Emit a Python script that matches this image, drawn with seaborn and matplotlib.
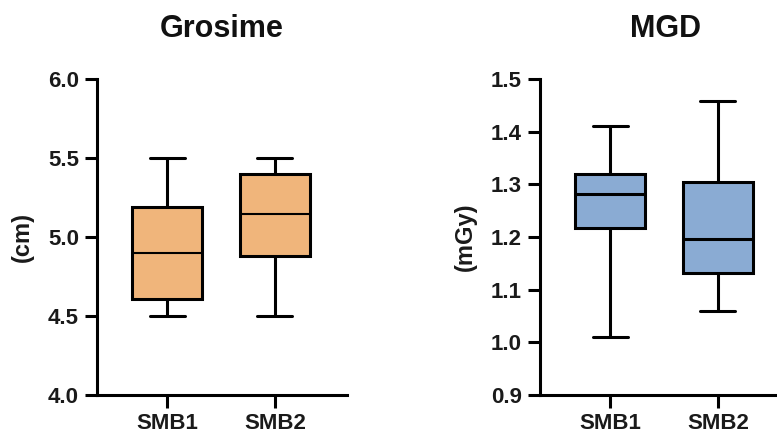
import matplotlib
matplotlib.use("Agg")
import matplotlib.pyplot as plt
import seaborn as sns
import pandas as pd

sns.set_theme(style="ticks")
plt.rcParams['font.family'] = ['Liberation Sans', 'DejaVu Sans']

groups = ["SMB1", "SMB2"]
# five-number summaries: min, q1, median, q3, max
grosime_smb1 = [4.50, 4.61, 4.90, 5.19, 5.50]
grosime_smb2 = [4.50, 4.88, 5.145, 5.40, 5.50]
mgd_smb1 = [1.01, 1.218, 1.281, 1.320, 1.41]
mgd_smb2 = [1.059, 1.132, 1.196, 1.305, 1.458]

titles = ["Grosime", "MGD"]
ylabels = ["(cm)", "(mGy)"]
yticks_left = [4.0, 4.5, 5.0, 5.5, 6.0]
yticks_right = [0.9, 1.0, 1.1, 1.2, 1.3, 1.4, 1.5]
colors = ["#F0B57B", "#8AABD3"]

def make_df(a, b):
    return pd.DataFrame({"group": [groups[0]] * len(a) + [groups[1]] * len(b),
                         "value": a + b})

dfs = [make_df(grosime_smb1, grosime_smb2), make_df(mgd_smb1, mgd_smb2)]
yticks = [yticks_left, yticks_right]
median_lw = [1.5, 2.2]

fig = plt.figure(figsize=(7.77, 4.34), dpi=100)
positions = [[97 / 777, 39 / 434, 250 / 777, 316 / 434],
             [540 / 777, 39 / 434, 250 / 777, 316 / 434]]

for i in range(2):
    ax = fig.add_axes(positions[i])
    sns.boxplot(data=dfs[i], x="group", y="value", ax=ax, color=colors[i],
                saturation=1, whis=(0, 100), width=0.65, linewidth=2.2,
                linecolor="black", medianprops={"linewidth": median_lw[i]})
    ax.set_ylim(yticks[i][0], yticks[i][-1])
    ax.set_yticks(yticks[i])
    ax.set_yticklabels([f"{t:.1f}" for t in yticks[i]])
    ax.set_xlim(-0.65, 1.67)
    ax.set_xlabel("")
    ax.set_ylabel(ylabels[i], fontsize=17, fontweight="bold", color="#1a1a1a", labelpad=10)
    ax.set_title(titles[i], fontsize=22, fontweight="bold", pad=30, color="#111111")
    for s in ["top", "right"]:
        ax.spines[s].set_visible(False)
    for s in ["left", "bottom"]:
        ax.spines[s].set_linewidth(2.2)
        ax.spines[s].set_color("black")
    ax.tick_params(axis="both", length=9, width=2.2, color="black",
                   labelsize=16, pad=4, labelcolor="#1a1a1a")
    for lbl in ax.get_xticklabels() + ax.get_yticklabels():
        lbl.set_fontweight("bold")

fig.savefig("out.png", dpi=100)
